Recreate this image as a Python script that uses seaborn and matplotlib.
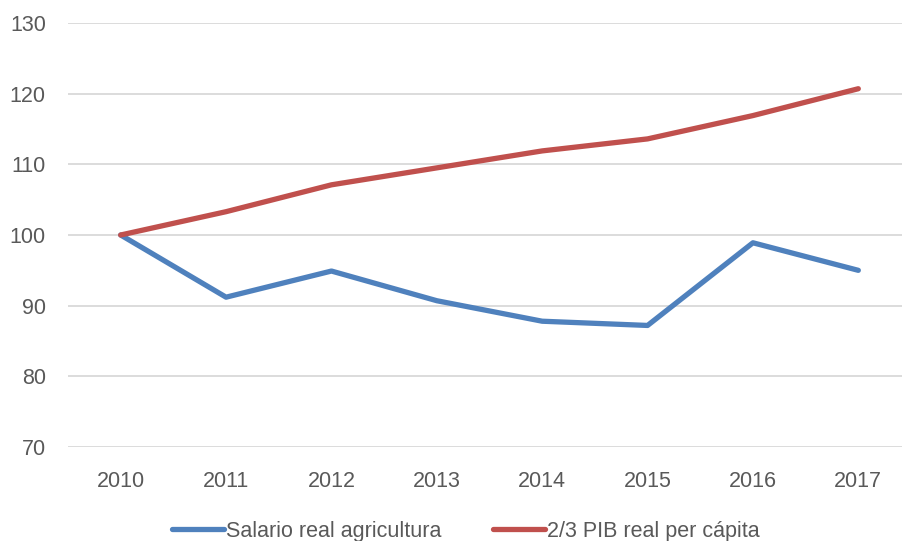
import pandas as pd
import seaborn as sns
import matplotlib.pyplot as plt

# data
years = ['2010', '2011', '2012', '2013', '2014', '2015', '2016', '2017']
salario = [100.0, 91.2, 94.9, 90.7, 87.8, 87.2, 98.9, 95.0]
pib = [100.0, 103.3, 107.1, 109.5, 111.9, 113.6, 116.9, 120.7]
series_names = ['Salario real agricultura', '2/3 PIB real per cápita']

df = pd.DataFrame({
    'year': years * 2,
    'value': salario + pib,
    'serie': [series_names[0]] * len(years) + [series_names[1]] * len(years),
})

sns.set_style('white')
plt.rcParams['font.family'] = ['Liberation Sans', 'DejaVu Sans']

fig = plt.figure(figsize=(9.02, 5.41), dpi=100)
ax = fig.add_axes([68 / 902, 94 / 541, 843 / 902, 424 / 541])

sns.lineplot(data=df, x='year', y='value', hue='serie', sort=False,
             palette=['#4F81BD', '#C0504D'], linewidth=3.8, ax=ax,
             solid_capstyle='round')

ax.set_ylim(70, 130)
ax.set_xlim(-0.5, 7.5)
ax.set_yticks(range(70, 131, 10))
ax.grid(axis='y', color='#D9D9D9', linewidth=1.3)
ax.set_axisbelow(True)
for s in ax.spines.values():
    s.set_visible(False)
ax.tick_params(axis='both', length=0, labelsize=15.5, colors='#595959')
ax.tick_params(axis='y', pad=16)
ax.tick_params(axis='x', pad=17)
ax.set_xlabel(None)
ax.set_ylabel(None)

ax.legend(handles=ax.get_legend_handles_labels()[0],
          labels=series_names, loc='center',
          bbox_to_anchor=(466 / 902, 10 / 541), bbox_transform=fig.transFigure,
          ncol=2, frameon=False, fontsize=15.5, labelcolor='#595959',
          handlelength=2.4, handletextpad=0.1, columnspacing=2.4)

fig.savefig('out.png', dpi=100)
